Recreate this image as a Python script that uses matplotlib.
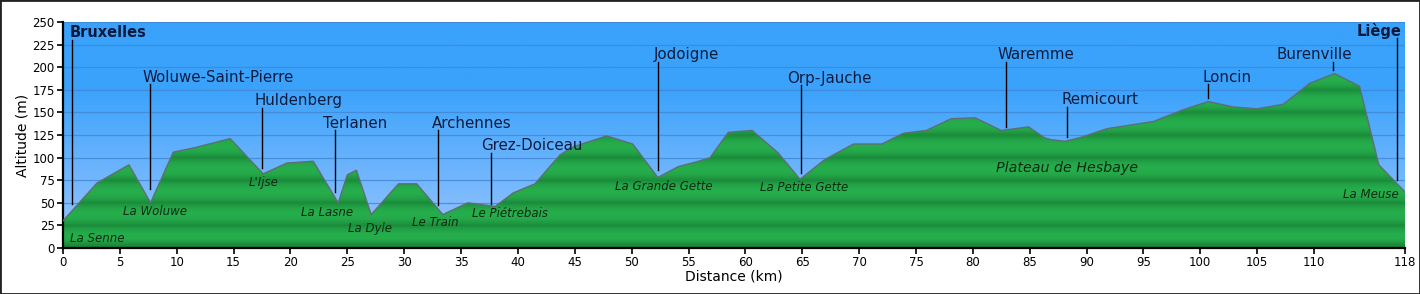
"""Altitude profile Bruxelles - Liège."""

import numpy as np
import matplotlib.pyplot as plt
from matplotlib.colors import to_rgb
from matplotlib.patches import Polygon, Rectangle

# ---------------------------------------------------------------------------
# Data
# ---------------------------------------------------------------------------
dist_km = [0, 3.0, 5.8, 7.7, 9.7, 11.6, 14.7, 17.6, 19.7, 22.0, 24.2, 25.0,
           25.8, 27.1, 29.5, 31.1, 33.4, 35.6, 38.0, 39.6, 41.5, 43.7, 44.9,
           47.8, 50.1, 52.3, 54.1, 55.9, 56.9, 58.5, 60.6, 62.9, 64.8, 67.0,
           69.5, 72.0, 73.9, 75.9, 78.1, 80.2, 82.5, 84.9, 86.3, 86.8, 88.1,
           89.4, 91.8, 95.9, 98.5, 100.7, 102.9, 105.0, 107.3, 109.6, 111.8,
           114.0, 115.7, 118]
altitude_m = [30, 72, 92, 50, 106, 111, 121, 82, 94, 96, 50, 81,
              86, 37, 71, 71, 37, 50, 46, 61, 71, 103, 112,
              124, 115, 78, 90, 96, 100, 128, 130, 105, 76, 98,
              115, 115, 127, 130, 143, 144, 130, 134, 122, 120, 118,
              122, 132, 140, 153, 162, 156, 154, 159, 182, 193,
              179, 92, 62]

towns = ["Bruxelles", "Woluwe-Saint-Pierre", "Huldenberg", "Terlanen",
         "Archennes", "Grez-Doiceau", "Jodoigne", "Orp-Jauche", "Waremme",
         "Remicourt", "Loncin", "Burenville", "Liège"]
town_km = [0.82, 7.65, 17.5, 23.9, 33.0, 37.6, 52.3, 64.9, 82.9, 88.3,
           100.7, 111.7, 117.32]
stem_top = [230, 181, 155, 130, 130, 105, 206, 180, 206, 156, 181, 206, 232]
stem_bottom = [49, 65, 89, 62, 48, 49, 86, 83, 134, 123, 166, 197, 75]
label_km = [0.55, 7.03, 16.88, 22.9, 32.4, 36.75, 51.9, 63.66, 82.2, 87.84,
            100.2, 106.66, 117.7]

rivers = ["La Senne", "La Woluwe", "L'Ijse", "La Lasne", "La Dyle",
          "Le Train", "Le Piétrebais", "La Grande Gette", "La Petite Gette",
          "Plateau de Hesbaye", "La Meuse"]
river_km = [0.62, 8.09, 17.63, 23.21, 26.97, 32.71, 39.3, 52.85, 65.13,
            88.25, 117.41]
river_alt = [11, 40, 72, 39, 22, 28, 38, 67.5, 67, 88, 59.5]

x_ticks = [0, 5, 10, 15, 20, 25, 30, 35, 40, 45, 50, 55, 60, 65, 70, 75, 80,
           85, 90, 95, 100, 105, 110, 118]
y_ticks = list(range(0, 251, 25))


def mix(c1, c2, t):
    c1 = np.asarray(to_rgb(c1) if isinstance(c1, str) else c1, dtype=float)
    c2 = np.asarray(to_rgb(c2) if isinstance(c2, str) else c2, dtype=float)
    t = np.asarray(t, dtype=float)[..., None]
    return c1 * (1 - t) + c2 * t


# ---------------------------------------------------------------------------
# Figure
# ---------------------------------------------------------------------------
fig = plt.figure(figsize=(14.2, 2.94), dpi=100)
ax = fig.add_axes([63 / 1420, 46 / 294, 1342 / 1420, 226 / 294])
xmax, ymax = 118, 250

# sky gradient
yy = np.linspace(0, 1, 256)  # 0 bottom, 1 top
sky = mix("#9cc6ff", "#3aa2fb", np.clip(yy * 1.4, 0, 1))
ax.imshow(sky[::-1, None, :].repeat(2, axis=1), extent=[0, xmax, 0, ymax],
          aspect="auto", zorder=0, interpolation="bilinear")

for y in y_ticks[1:]:
    ax.axhline(y, color="#3f86d6", lw=0.9, alpha=0.8, zorder=1)

# banded green ground
yv = np.linspace(0, ymax, 1000)
phase = (yv % 25) / 25
edge = np.abs(phase - 0.5) * 2
green = mix("#26ad4c", "#1b8a3a", edge ** 2.2)
low = yv < 10
green[low] = mix(green[low], "#16722f", (1 - yv[low] / 10) * 0.6)
img = ax.imshow(green[::-1, None, :].repeat(2, axis=1),
                extent=[0, xmax, 0, ymax], aspect="auto", zorder=2,
                interpolation="bilinear")
verts = [(0, 0)] + list(zip(dist_km, altitude_m)) + [(xmax, 0)]
clip = Polygon(verts, closed=True, transform=ax.transData, facecolor="none",
               edgecolor="none")
ax.add_patch(clip)
img.set_clip_path(clip)
ax.plot(dist_km, altitude_m, color="#5d6f72", lw=1.0, zorder=3)

# town labels with leader lines
for i, name in enumerate(towns):
    ax.plot([town_km[i], town_km[i]], [stem_bottom[i], stem_top[i]],
            color="black", lw=1.0, zorder=4)
    bold = name in ("Bruxelles", "Liège")
    ax.text(label_km[i], stem_top[i] + 3, name,
            ha="right" if name == "Liège" else "left", va="baseline",
            fontsize=10.5 if bold else 10.8,
            fontweight="bold" if bold else "normal",
            color="#0b1a3c" if bold else "#0d1b3e", zorder=5)

# river / region labels
for i, name in enumerate(rivers):
    if i == 0:
        ha = "left"
    elif name == "La Meuse":
        ha = "right"
    else:
        ha = "center"
    ax.text(river_km[i], river_alt[i], name, ha=ha, va="center",
            style="italic", fontsize=10.3 if name.startswith("Plateau") else 8.5,
            color="#0e2a14", zorder=5)

ax.set_xlim(0, xmax)
ax.set_ylim(0, ymax)
ax.set_xticks(x_ticks)
ax.set_yticks(y_ticks)
ax.tick_params(direction="out", length=4, width=1.2, labelsize=8.5,
               colors="black", pad=2)
for side in ("top", "right"):
    ax.spines[side].set_visible(False)
for side in ("left", "bottom"):
    ax.spines[side].set_linewidth(1.6)
ax.set_xlabel("Distance (km)", fontsize=10, labelpad=0)
ax.set_ylabel("Altitude (m)", fontsize=10, labelpad=2)

fig.add_artist(Rectangle((0, 0), 1, 1, transform=fig.transFigure, fill=False,
                         edgecolor="#222222", lw=2))

fig.savefig("out.png", dpi=100)
